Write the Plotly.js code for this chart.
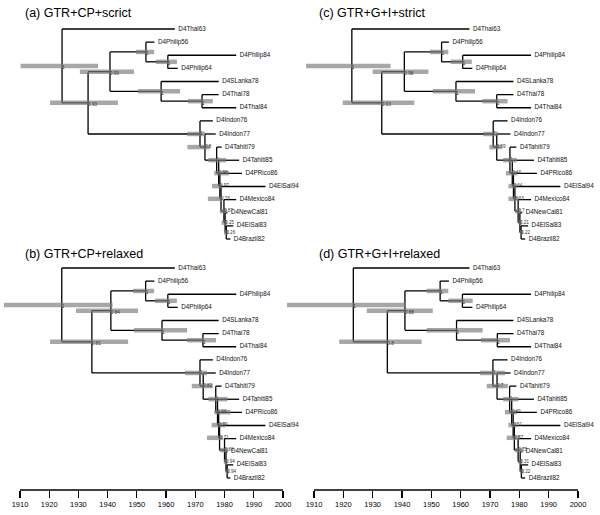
<!DOCTYPE html>
<html><head><meta charset="utf-8">
<script src="https://cdn.plot.ly/plotly-3.0.1.min.js"></script>
<style>html,body{margin:0;padding:0;background:#fff}#chart{width:600px;height:515px}</style>
</head><body><div id="chart"></div>
<script>
// ---------- data ----------
const tipNames = ['D4Thai63','D4Philip56','D4Philip84','D4Philip64','D4SLanka78','D4Thai78','D4Thai84',
  'D4Indon76','D4Indon77','D4Tahiti79','D4Tahiti85','D4PRico86','D4ElSal94','D4Mexico84','D4NewCal81','D4ElSal83','D4Brazil82'];
const tipYears = [1963,1956,1984,1964,1978,1978,1984,1976,1977,1979,1985,1986,1994,1984,1981,1983,1982];
// internal nodes: root, N1, N2, P, PP, S, TT, A, B, C, C2, X, Y, Z, W, H
const nodeChildren = [['t0','n1'],['n2','n7'],['n3','n5'],['t1','n4'],['t2','t3'],['t4','n6'],['t5','t6'],
  ['t7','n8'],['t8','n9'],['t9','n10'],['t10','n11'],['t11','n12'],['t12','n13'],['t13','n14'],['t14','n15'],['t15','t16']];
const nodeClade = ['deep','deep','deep','deep','deep','deep','deep','am','am','am','am','am','am','am','am','am'];

const panelTitles = ['(a) GTR+CP+scrict','(b) GTR+CP+relaxed','(c) GTR+G+I+strict','(d) GTR+G+I+relaxed'];

const agesA = [1924.4,1933.3,1940.8,1953.1,1960.6,1958.3,1972.3,1971.6,1973.3,1977.3,1978.0,1978.4,1978.8,1979.8,1980.2,1980.6];
const lowA  = [1910.2,1920.3,1930.5,1949.7,1956.5,1950.4,1967.5,1967.2,1967.3,1974.5,1976.5,1975.7,1974.3,1978.4,1979.0,1979.8];
const highA = [1936.7,1943.5,1949.0,1955.9,1963.7,1964.8,1976.0,1973.3,1975.0,1980.5,1981.5,1979.2,1979.3,1980.8,1980.9,1981.3];
const postA = [1,0.93,0.99,1,1,1,1,1,0.8,1,0.98,0.97,0.76,0.87,0.25,0.26];

const agesB = [1924.3,1934.6,1941.1,1953.0,1960.6,1958.6,1972.6,1971.6,1972.7,1977.0,1977.6,1978.0,1978.3,1980.0,1980.5,1980.9];
const lowB  = [1904.5,1920.3,1929.2,1948.7,1956.2,1949.0,1967.2,1966.5,1968.8,1974.5,1976.5,1975.6,1974.0,1978.4,1979.8,1980.3];
const highB = [1941.7,1947.0,1950.4,1955.9,1963.7,1967.2,1977.1,1974.0,1976.0,1981.0,1982.0,1980.2,1979.5,1981.2,1981.0,1981.5];
const postB = [1,0.81,0.84,1,1,1,1,1,0.82,1,0.96,0.99,0.71,0.88,0.94,0.94];

const agesC = [1922.9,1933.1,1940.8,1953.5,1960.7,1958.4,1972.3,1971.1,1972.3,1976.8,1977.6,1978.0,1978.5,1979.6,1980.2,1980.6];
const lowC  = [1907.3,1919.8,1930.0,1949.5,1956.6,1950.5,1967.4,1967.7,1969.8,1974.5,1975.4,1976.3,1976.3,1978.5,1979.7,1980.2];
const highC = [1936.1,1944.2,1949.0,1955.8,1963.8,1964.9,1976.0,1972.8,1974.0,1979.1,1979.3,1979.1,1979.7,1980.5,1980.8,1981.3];
const postC = [1,0.93,0.98,1,1,1,1,1,0.69,1,0.46,0.64,0.63,0.7,0.21,0.22];

const agesD = [1923.4,1935.0,1941.0,1953.0,1960.6,1958.6,1972.5,1971.0,1972.4,1976.7,1977.4,1977.9,1978.3,1979.6,1980.3,1980.7];
const lowD  = [1900.8,1918.6,1928.0,1948.4,1955.8,1948.4,1966.9,1966.6,1968.9,1974.5,1975.1,1976.3,1975.7,1978.5,1979.7,1980.2];
const highD = [1941.3,1946.7,1950.5,1955.8,1964.1,1967.5,1976.8,1975.1,1976.1,1979.7,1979.1,1979.1,1980.2,1981.4,1981.0,1981.4];
const postD = [1,0.8,0.88,1,1,1,1,1,0.7,1,0.49,0.51,0.57,0.75,0.31,0.22];

const axisTicks = [1910,1920,1930,1940,1950,1960,1970,1980,1990,2000];

// ---------- build ----------
const FONT = 'Liberation Sans, Arial, Helvetica, sans-serif';
function yOf(id){
  const k = +id.slice(1);
  if (id[0]==='t') return k;
  const c = nodeChildren[k];
  return (yOf(c[0]) + yOf(c[1]))/2;
}
function xOf(id, ages){
  const k = +id.slice(1);
  return id[0]==='t' ? tipYears[k] : ages[k];
}
const nodeY = nodeChildren.map((c,k)=>yOf('n'+k));

function panelTraces(ages, low, high, post, xa, ya){
  const bx=[], by=[];
  nodeChildren.forEach((ch,k)=>{
    const a = ages[k];
    const ys = ch.map(yOf);
    bx.push(a,a,null); by.push(Math.min(...ys),Math.max(...ys),null);
    ch.forEach(c=>{ bx.push(a, xOf(c,ages), null); const cy=yOf(c); by.push(cy,cy,null); });
  });
  const hx=[], hy=[];
  nodeChildren.forEach((ch,k)=>{ hx.push(low[k],high[k],null); hy.push(nodeY[k],nodeY[k],null); });
  return [
    {type:'scatter',mode:'lines',x:bx,y:by,xaxis:xa,yaxis:ya,line:{color:'#000',width:1.3},hoverinfo:'skip',showlegend:false},
    {type:'scatter',mode:'lines',x:hx,y:hy,xaxis:xa,yaxis:ya,line:{color:'rgba(125,125,125,0.68)',width:4.5},hoverinfo:'skip',showlegend:false},
    {type:'scatter',mode:'markers+text',x:tipYears,y:tipNames.map((n,i)=>i),text:tipNames,textposition:'middle right',
      marker:{size:4,opacity:0},
      textfont:{family:FONT,size:6.3,color:'#111'},xaxis:xa,yaxis:ya,cliponaxis:false,hoverinfo:'skip',showlegend:false},
    {type:'scatter',mode:'text',x:ages,y:nodeY,text:post.map(String),
      textposition:nodeClade.map(c=>c==='am'?'middle right':'bottom right'),
      textfont:{family:FONT,size:4.6,color:'#333'},xaxis:xa,yaxis:ya,cliponaxis:false,hoverinfo:'skip',showlegend:false}
  ];
}

const data = [].concat(
  panelTraces(agesA,lowA,highA,postA,'x3','y3'),
  panelTraces(agesB,lowB,highB,postB,'x','y'),
  panelTraces(agesC,lowC,highC,postC,'x4','y4'),
  panelTraces(agesD,lowD,highD,postD,'x2','y2')
);

// left column: 284 px wide, 2.922 px/yr ; right column: 315 px, 2.933 px/yr
const leftRange = [1903.16, 1903.16 + 284/2.922];
const rightRange = [1900.11, 1900.11 + 315/2.933];
const xBase = {showgrid:false,zeroline:false,showline:false,tickmode:'array',tickvals:axisTicks,
  ticktext:axisTicks.map(String),ticks:'outside',ticklen:7,tickwidth:1.2,tickcolor:'#000',
  tickfont:{family:FONT,size:7.5,color:'#000'},fixedrange:true};
const topRange = [16.457,-2.2095], botRange = [16.914,-1.752];
const yBase = {visible:false,showgrid:false,zeroline:false,fixedrange:true};

const layout = {
  width:600,height:515,margin:{l:0,r:0,t:0,b:25},paper_bgcolor:'#fff',plot_bgcolor:'rgba(0,0,0,0)',
  hovermode:false,showlegend:false,
  xaxis:Object.assign({},xBase,{domain:[0,284/600],range:leftRange,anchor:'y'}),
  xaxis2:Object.assign({},xBase,{domain:[285/600,1],range:rightRange,anchor:'y2'}),
  xaxis3:Object.assign({},xBase,{domain:[0,284/600],range:leftRange,anchor:'y3',visible:false}),
  xaxis4:Object.assign({},xBase,{domain:[285/600,1],range:rightRange,anchor:'y4',visible:false}),
  yaxis:Object.assign({},yBase,{domain:[0,0.5],range:botRange,anchor:'x'}),
  yaxis2:Object.assign({},yBase,{domain:[0,0.5],range:botRange,anchor:'x2'}),
  yaxis3:Object.assign({},yBase,{domain:[0.5,1],range:topRange,anchor:'x3'}),
  yaxis4:Object.assign({},yBase,{domain:[0.5,1],range:topRange,anchor:'x4'}),
  shapes:[
    {type:'line',xref:'x',yref:'paper',x0:axisTicks[0],x1:axisTicks[axisTicks.length-1],y0:0,y1:0,line:{color:'#000',width:1.3}},
    {type:'line',xref:'x2',yref:'paper',x0:axisTicks[0],x1:axisTicks[axisTicks.length-1],y0:0,y1:0,line:{color:'#000',width:1.3}}
  ],
  annotations:[
    {text:panelTitles[0],xref:'paper',yref:'paper',x:23/600,y:1-13/490,xanchor:'left',yanchor:'middle',showarrow:false,font:{family:FONT,size:12.5,color:'#000'}},
    {text:panelTitles[1],xref:'paper',yref:'paper',x:23/600,y:1-254/490,xanchor:'left',yanchor:'middle',showarrow:false,font:{family:FONT,size:12.5,color:'#000'}},
    {text:panelTitles[2],xref:'paper',yref:'paper',x:317/600,y:1-13/490,xanchor:'left',yanchor:'middle',showarrow:false,font:{family:FONT,size:12.5,color:'#000'}},
    {text:panelTitles[3],xref:'paper',yref:'paper',x:317/600,y:1-254/490,xanchor:'left',yanchor:'middle',showarrow:false,font:{family:FONT,size:12.5,color:'#000'}}
  ]
};
Plotly.newPlot('chart',data,layout,{staticPlot:true,displayModeBar:false});
</script></body></html>
